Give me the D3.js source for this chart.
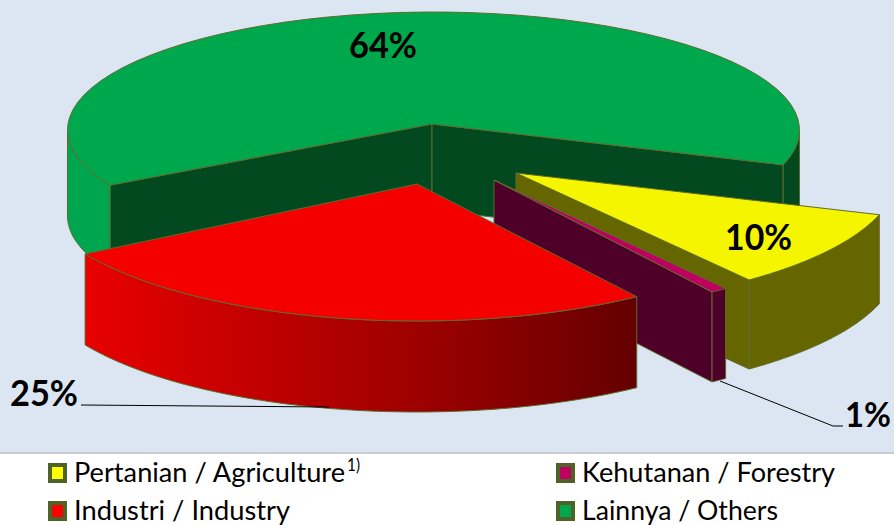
<!DOCTYPE html>
<html>
<head>
<meta charset="utf-8">
<style>
  html, body { margin: 0; padding: 0; background: #fff; }
  svg { display: block; }
  text { font-family: Lato, "Open Sans", sans-serif; fill: #000; }
  .pct { font-weight: 700; }
  .leg { font-size: 27px; }
</style>
</head>
<body>
<script src="https://cdnjs.cloudflare.com/ajax/libs/d3/7.8.5/d3.min.js"></script>
<script>
// data
const categories = ["Pertanian / Agriculture", "Kehutanan / Forestry", "Industri / Industry", "Lainnya / Others"];
const values = [10, 1, 25, 64];
const pctLabels = ["10%", "1%", "25%", "64%"];
const colors = ["#f5f500", "#c00060", "#f50000", "#00a84d"];
const legendColors = ["#ffff00", "#c00060", "#ff0000", "#00a84d"];
const footnote = "1)";

const width = 894, height = 525;
const rad = d => d * Math.PI / 180;

// one entry per slice: where the exploded slice sits, and how far the
// perspective of the original pushes its corners away from the true angle
const sliceGeo = [
  {ax: 516, ay: 173, cx: 516, cy: 173, rx: 382, ry: 135, depth: 89, nudge: [1, -0.6]},
  {ax: 494, ay: 180, cx: 494, cy: 180, rx: 384, ry: 136, depth: 90, nudge: [-0.1, -1.2]},
  {ax: 417, ay: 184, cx: 417, cy: 184, rx: 386, ry: 137, depth: 91, nudge: [-1.3, 2.7]},
  {ax: 432, ay: 124, cx: 433.5, cy: 130, rx: 366, ry: 118, depth: 86, nudge: [5.5, 0.2]}
];
const edge = "#5f6b2e";

const svg = d3.select("body").append("svg").attr("width", width).attr("height", height);

const defs = svg.append("defs");
function gradient(id, x1, x2, stops) {
  const g = defs.append("linearGradient").attr("id", id)
    .attr("gradientUnits", "userSpaceOnUse")
    .attr("x1", x1).attr("x2", x2).attr("y1", 0).attr("y2", 0);
  stops.forEach(s => g.append("stop").attr("offset", s[0]).attr("stop-color", s[1]));
}
gradient("redSide", 85, 636, [[0, "#e80000"], [0.66, "#960000"], [1, "#640000"]]);
gradient("greenSide", 67, 800, [[0, "#00a54f"], [0.08, "#00a54f"], [0.9, "#03491f"], [1, "#03491f"]]);

const sideFill = ["#666600", "#4f0029", "url(#redSide)", "url(#greenSide)"];
const wallFill = ["#666600", "#4f0029", "#640000", "#03491f"];

// background band + shadow line
svg.append("rect").attr("width", width).attr("height", 452).attr("fill", "#dce6f2");
svg.append("rect").attr("y", 452).attr("width", width).attr("height", 2).attr("fill", "#c9ccd0");

// pie angles, 0 = 12 o'clock, clockwise
const pie = d3.pie().sort(null).startAngle(rad(107)).endAngle(rad(467));
const arcs = pie(values);

const line = d3.line();

function rimPoint(g, a) {
  return [g.cx + g.rx * Math.cos(a), g.cy + g.ry * Math.sin(a)];
}
function sampleRim(g, a0, a1) {
  return d3.range(0, 61).map(k => rimPoint(g, a0 + (a1 - a0) * k / 60));
}
const down = (p, d) => [p[0], p[1] + d];

function wall(p, q, d) {
  return line([p, q, down(q, d), down(p, d)]) + "Z";
}

function drawSlice(i) {
  const g = sliceGeo[i], d = g.depth;
  const a0 = arcs[i].startAngle - Math.PI / 2 + rad(g.nudge[0]);
  const a1 = arcs[i].endAngle - Math.PI / 2 + rad(g.nudge[1]);
  const apex = [g.ax, g.ay];
  const gs = svg.append("g").attr("class", "slice").attr("stroke", edge).attr("stroke-width", 1);

  // cut faces, only the ones turned towards the viewer
  if (Math.cos(a0) < 0) gs.append("path").attr("d", wall(apex, rimPoint(g, a0), d)).attr("fill", wallFill[i]);
  if (Math.cos(a1) > 0) gs.append("path").attr("d", wall(apex, rimPoint(g, a1), d)).attr("fill", wallFill[i]);

  // outer wall, front half of the ellipse only
  [[0, Math.PI], [2 * Math.PI, 3 * Math.PI]].forEach(r => {
    const from = Math.max(a0, r[0]), to = Math.min(a1, r[1]);
    if (from >= to) return;
    const pts = sampleRim(g, from, to);
    gs.append("path")
      .attr("d", line(pts.concat(pts.slice().reverse().map(p => down(p, d)))) + "Z")
      .attr("fill", sideFill[i]);
  });

  // top
  gs.append("path")
    .attr("d", line([apex].concat(sampleRim(g, a0, a1))) + "Z")
    .attr("fill", colors[i]);
}

// painter's order, back to front
[3, 0, 1, 2].forEach(drawSlice);

// leader lines
svg.append("path").attr("d", line([[81, 405], [329, 407]]))
  .attr("fill", "none").attr("stroke", "#000").attr("stroke-width", 1);
svg.append("path").attr("d", line([[720, 381], [833, 426], [843, 426]]))
  .attr("fill", "none").attr("stroke", "#000").attr("stroke-width", 1);

// percentage labels
const pctPos = [[725, 250], [845, 427], [10, 406], [349, 58]];
const pctWidth = [67, 46, 68, 68];
const pctSize = [37, 35, 37, 37];
svg.selectAll("text.pct").data(pctLabels).join("text")
  .attr("class", "pct")
  .attr("x", (d, i) => pctPos[i][0])
  .attr("y", (d, i) => pctPos[i][1])
  .style("font-size", (d, i) => pctSize[i] + "px")
  .attr("textLength", (d, i) => pctWidth[i])
  .attr("lengthAdjust", "spacingAndGlyphs")
  .text(d => d);

// legend
const legX = [48, 556, 48, 556], legY = [463, 463, 501, 501];
const legWidth = [271, 253, 216, 196];
const legend = svg.selectAll("g.legend").data(categories).join("g")
  .attr("class", "legend")
  .attr("transform", (d, i) => `translate(${legX[i]},${legY[i]})`);
legend.append("rect")
  .attr("x", 2).attr("y", 2).attr("width", 15).attr("height", 16)
  .attr("fill", (d, i) => legendColors[i])
  .attr("stroke", "#4f6228").attr("stroke-width", 4);
legend.append("text")
  .attr("class", "leg")
  .attr("x", 26).attr("y", 19)
  .attr("textLength", (d, i) => legWidth[i])
  .attr("lengthAdjust", "spacingAndGlyphs")
  .text(d => d);

svg.append("text")
  .attr("x", 347).attr("y", 471)
  .style("font-size", "17px")
  .attr("textLength", 13)
  .attr("lengthAdjust", "spacingAndGlyphs")
  .text(footnote);
</script>
</body>
</html>
